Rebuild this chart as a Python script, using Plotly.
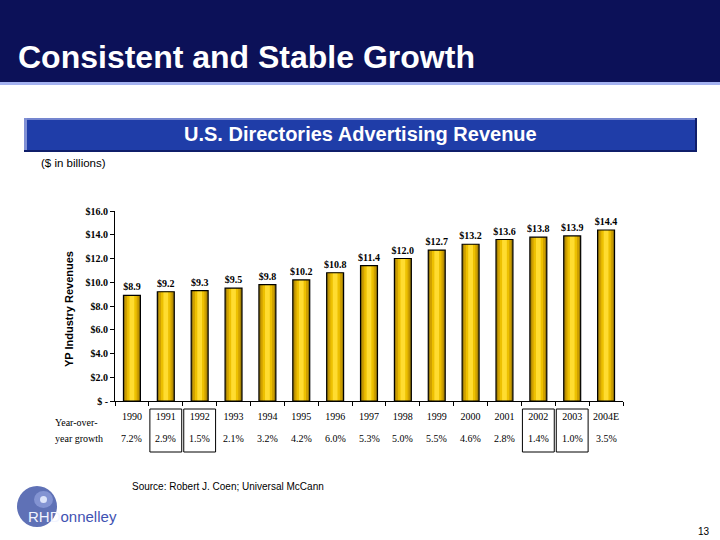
import plotly.graph_objects as go

# ---------------- data ----------------
years = ["1990", "1991", "1992", "1993", "1994", "1995", "1996", "1997",
         "1998", "1999", "2000", "2001", "2002", "2003", "2004E"]
revenue = [8.9, 9.2, 9.3, 9.5, 9.8, 10.2, 10.8, 11.4, 12.0, 12.7, 13.2, 13.6, 13.8, 13.9, 14.4]
growth = [7.2, 2.9, 1.5, 2.1, 3.2, 4.2, 6.0, 5.3, 5.0, 5.5, 4.6, 2.8, 1.4, 1.0, 3.5]
boxed_years = ["1991", "1992", "2002", "2003"]
y_tick_vals = [0, 2, 4, 6, 8, 10, 12, 14, 16]
y_tick_text = ["$ -", "$2.0", "$4.0", "$6.0", "$8.0", "$10.0", "$12.0", "$14.0", "$16.0"]

SERIF = "Liberation Serif, Times New Roman, serif"
SANS = "Liberation Sans, Arial, sans-serif"

# plot area in pixels
W, H = 720, 540
L, R, T, B = 115, 97, 211, 139
PW, PH = W - L - R, H - T - B


def px(x):
    return (x - L) / PW


def py(y):
    return (H - B - y) / PH


fig = go.Figure()

# layered bars to mimic the gold gradient
layers = [(0.50, "#9C7C06"), (0.40, "#CFA000"), (0.28, "#EDC000"), (0.14, "#FFDC30")]
for w, c in layers:
    fig.add_trace(go.Bar(x=years, y=revenue, width=[w] * len(years),
                         marker=dict(color=c, line=dict(width=0)),
                         hoverinfo="skip", showlegend=False))
# outline + labels
fig.add_trace(go.Bar(x=years, y=revenue, width=[0.5] * len(years),
                     marker=dict(color="rgba(0,0,0,0)", line=dict(color="black", width=1.2)),
                     texttemplate="$%{y:.1f}", textposition="outside", constraintext="none",
                     textfont=dict(family=SERIF, size=10, color="black", weight="bold"),
                     cliponaxis=False, showlegend=False))

shapes = []
annotations = []

# title bar
shapes.append(dict(type="rect", xref="paper", yref="paper", x0=px(0), x1=px(720),
                   y0=py(82), y1=py(0), fillcolor="#0C1158", line=dict(width=0), layer="below"))
shapes.append(dict(type="rect", xref="paper", yref="paper", x0=px(0), x1=px(720),
                   y0=py(85), y1=py(82), fillcolor="#A4B2F0", line=dict(width=0), layer="below"))
annotations.append(dict(text="<b>Consistent and Stable Growth</b>", xref="paper", yref="paper",
                        x=px(16), y=py(57), xanchor="left", yanchor="middle", showarrow=False,
                        font=dict(family=SANS, size=32, color="white")))

# subtitle bar (with bevel)
shapes.append(dict(type="rect", xref="paper", yref="paper", x0=px(24), x1=px(697),
                   y0=py(152), y1=py(118), fillcolor="#1F3DA8", line=dict(width=0), layer="below"))
shapes.append(dict(type="rect", xref="paper", yref="paper", x0=px(24), x1=px(697),
                   y0=py(120), y1=py(118), fillcolor="#7485CF", line=dict(width=0), layer="below"))
shapes.append(dict(type="rect", xref="paper", yref="paper", x0=px(24), x1=px(27),
                   y0=py(152), y1=py(118), fillcolor="#8090D4", line=dict(width=0), layer="below"))
shapes.append(dict(type="rect", xref="paper", yref="paper", x0=px(24), x1=px(697),
                   y0=py(152), y1=py(150), fillcolor="#0F1E6A", line=dict(width=0), layer="below"))
shapes.append(dict(type="rect", xref="paper", yref="paper", x0=px(695), x1=px(697),
                   y0=py(152), y1=py(118), fillcolor="#0F1E6A", line=dict(width=0), layer="below"))
annotations.append(dict(text="<b>U.S. Directories Advertising Revenue</b>", xref="paper", yref="paper",
                        x=px(360), y=py(134), xanchor="center", yanchor="middle", showarrow=False,
                        font=dict(family=SANS, size=20, color="white")))
annotations.append(dict(text="($ in billions)", xref="paper", yref="paper",
                        x=px(39), y=py(163), xanchor="left", yanchor="middle", showarrow=False,
                        font=dict(family=SANS, size=11.5, color="black")))

# y-axis title
annotations.append(dict(text="<b>YP Industry Revenues</b>", xref="paper", yref="paper",
                        x=px(69), y=py(309), xanchor="center", yanchor="middle", showarrow=False,
                        textangle=-90, font=dict(family=SANS, size=11, color="black")))

# growth row
annotations.append(dict(text="Year-over-", xref="paper", yref="paper",
                        x=px(53), y=py(422), xanchor="left", yanchor="middle", showarrow=False,
                        font=dict(family=SERIF, size=10, color="black")))
annotations.append(dict(text="year growth", xref="paper", yref="paper",
                        x=px(53), y=py(438), xanchor="left", yanchor="middle", showarrow=False,
                        font=dict(family=SERIF, size=10, color="black")))
for i, g in enumerate(growth):
    annotations.append(dict(text=f"{g:.1f}%", xref="x", yref="paper", x=i, y=py(438),
                            xanchor="center", yanchor="middle", showarrow=False,
                            font=dict(family=SERIF, size=10, color="black")))
for yr in boxed_years:
    i = years.index(yr)
    shapes.append(dict(type="rect", xref="x", yref="paper", x0=i - 0.47, x1=i + 0.47,
                       y0=py(452), y1=py(409), line=dict(color="black", width=1),
                       fillcolor="rgba(0,0,0,0)"))

# source
annotations.append(dict(text="Source: Robert J. Coen; Universal McCann", xref="paper", yref="paper",
                        x=px(130), y=py(486), xanchor="left", yanchor="middle", showarrow=False,
                        font=dict(family=SANS, size=10, color="black")))

# logo
shapes.append(dict(type="circle", xref="paper", yref="paper", x0=px(17), x1=px(57),
                   y0=py(527), y1=py(486), fillcolor="#5F71B6", line=dict(width=0)))
shapes.append(dict(type="circle", xref="paper", yref="paper", x0=px(34), x1=px(53),
                   y0=py(508), y1=py(491), fillcolor="#8393D2", line=dict(width=0)))
shapes.append(dict(type="circle", xref="paper", yref="paper", x0=px(40), x1=px(47),
                   y0=py(503), y1=py(496), fillcolor="#DDE4FA", line=dict(width=0)))
annotations.append(dict(text="<span style='color:#F2F4FF'>RHD</span><span style='color:#3F52B2'>onnelley</span>",
                        xref="paper", yref="paper", x=px(26), y=py(516), xanchor="left", yanchor="middle",
                        showarrow=False, font=dict(family=SANS, size=15, color="#3F52B2")))

# page number
annotations.append(dict(text="13", xref="paper", yref="paper", x=px(712), y=py(531),
                        xanchor="right", yanchor="middle", showarrow=False,
                        font=dict(family=SANS, size=10, color="black")))

fig.update_layout(
    width=W, height=H,
    margin=dict(l=L, r=R, t=T, b=B, pad=0),
    paper_bgcolor="white", plot_bgcolor="white",
    barmode="overlay",
    shapes=shapes, annotations=annotations,
    xaxis=dict(type="category", range=[-0.5, 14.5], showline=True, linecolor="black", linewidth=1,
               ticks="outside", ticklen=4, tickcolor="black", tickson="boundaries", tickangle=0,
               ticklabelstandoff=6,
               showgrid=False, zeroline=False,
               tickfont=dict(family=SERIF, size=10, color="black")),
    yaxis=dict(range=[0, 16], tickvals=y_tick_vals, ticktext=y_tick_text, showline=True,
               linecolor="black", linewidth=1, ticks="outside", ticklen=4, tickcolor="black",
               showgrid=False, zeroline=False,
               tickfont=dict(family=SERIF, size=10, color="black", weight="bold")),
)

fig.write_html("out.html")
